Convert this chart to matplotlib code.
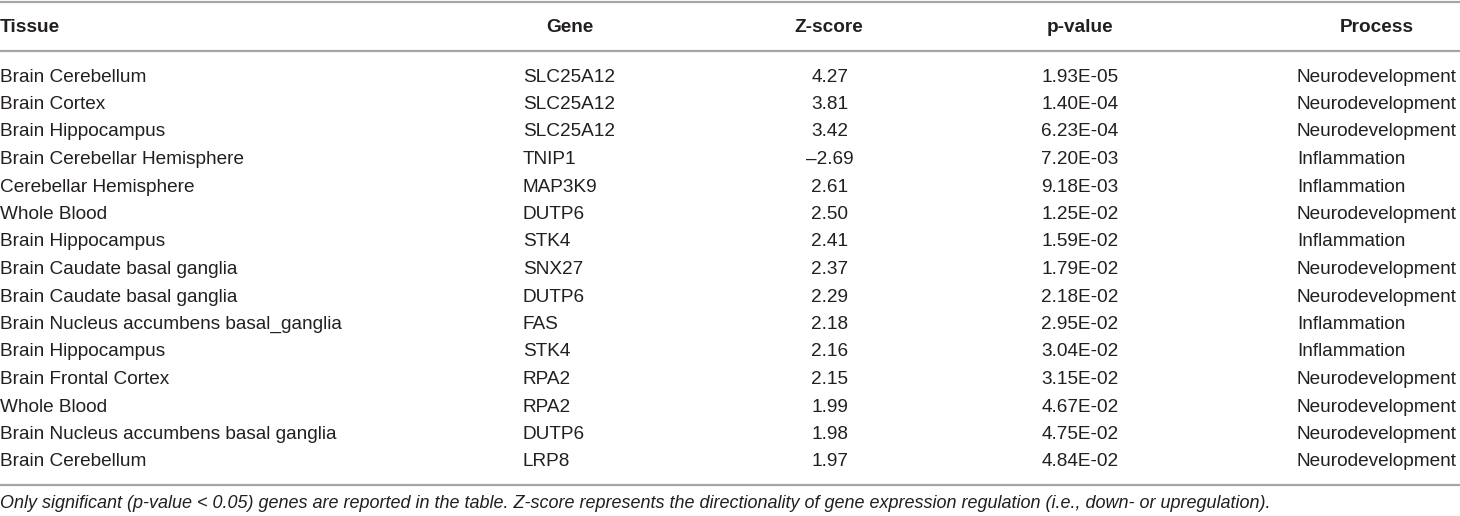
import matplotlib.pyplot as plt

plt.rcParams['font.family'] = ['Liberation Sans', 'DejaVu Sans']

headers = ["Tissue", "Gene", "Z-score", "p-value", "Process"]
tissues = [
    "Brain Cerebellum", "Brain Cortex", "Brain Hippocampus",
    "Brain Cerebellar Hemisphere", "Cerebellar Hemisphere", "Whole Blood",
    "Brain Hippocampus", "Brain Caudate basal ganglia",
    "Brain Caudate basal ganglia", "Brain Nucleus accumbens basal_ganglia",
    "Brain Hippocampus", "Brain Frontal Cortex", "Whole Blood",
    "Brain Nucleus accumbens basal ganglia", "Brain Cerebellum",
]
genes = ["SLC25A12", "SLC25A12", "SLC25A12", "TNIP1", "MAP3K9", "DUTP6",
         "STK4", "SNX27", "DUTP6", "FAS", "STK4", "RPA2", "RPA2", "DUTP6",
         "LRP8"]
zscores = ["4.27", "3.81", "3.42", "\u20132.69", "2.61", "2.50", "2.41",
           "2.37", "2.29", "2.18", "2.16", "2.15", "1.99", "1.98", "1.97"]
pvalues = ["1.93E-05", "1.40E-04", "6.23E-04", "7.20E-03", "9.18E-03",
           "1.25E-02", "1.59E-02", "1.79E-02", "2.18E-02", "2.95E-02",
           "3.04E-02", "3.15E-02", "4.67E-02", "4.75E-02", "4.84E-02"]
processes = ["Neurodevelopment", "Neurodevelopment", "Neurodevelopment",
             "Inflammation", "Inflammation", "Neurodevelopment",
             "Inflammation", "Neurodevelopment", "Neurodevelopment",
             "Inflammation", "Inflammation", "Neurodevelopment",
             "Neurodevelopment", "Neurodevelopment", "Neurodevelopment"]
footnote = ("Only significant (p-value < 0.05) genes are reported in the table. "
            "Z-score represents the directionality of gene expression "
            "regulation (i.e., down- or upregulation).")

W, H = 1460, 516
fig = plt.figure(figsize=(W / 100, H / 100), dpi=100)
ax = fig.add_axes([0, 0, 1, 1])
ax.set_xlim(0, W)
ax.set_ylim(H, 0)
ax.axis('off')

txt = '#231f20'
rule = '#a6a6a6'
fs = 13.7

# header positions and alignment
head_x = [0, 570, 829, 1080, 1377]
head_ha = ['left', 'center', 'center', 'center', 'center']
head_y = 27
for h, x, ha in zip(headers, head_x, head_ha):
    ax.text(x, head_y, h, ha=ha, va='center', fontsize=fs,
            fontweight='bold', color=txt)

# body columns
cols = [tissues, genes, zscores, pvalues, processes]
col_x = [0, 523, 830, 1080, 1297]
col_ha = ['left', 'left', 'center', 'center', 'left']
row0, step = 77, 27.5
for vals, x, ha in zip(cols, col_x, col_ha):
    for i, v in enumerate(vals):
        ax.text(x, row0 + i * step, v, ha=ha, va='center', fontsize=fs,
                color=txt)

for y in [1.5, 51, 485]:
    ax.plot([0, W], [y, y], color=rule, lw=1.6, solid_capstyle='butt')

ax.text(0, 503, footnote, ha='left', va='center', fontsize=13.0,
        fontstyle='italic', color=txt)

fig.savefig("out.png", dpi=100)
